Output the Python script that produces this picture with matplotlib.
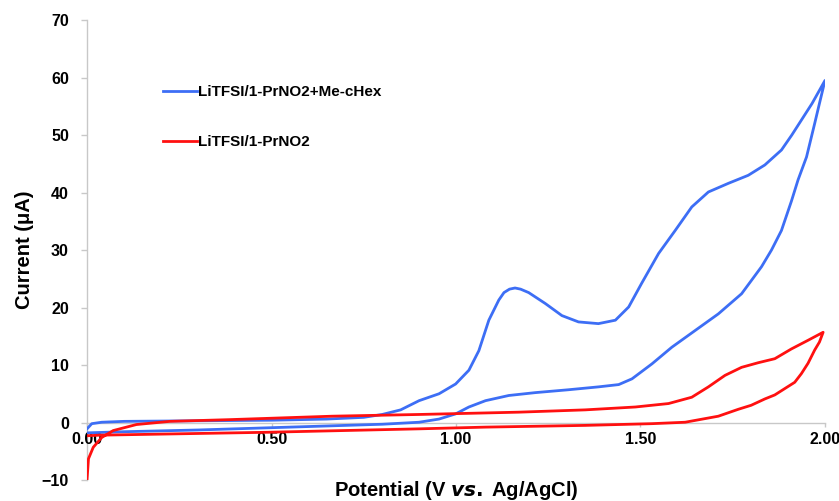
"""Cyclic voltammogram: LiTFSI/1-PrNO2 with and without Me-cHex."""
import matplotlib
matplotlib.use("Agg")
import matplotlib.pyplot as plt

plt.rcParams["font.family"] = ["Liberation Sans", "DejaVu Sans"]
plt.rcParams["font.weight"] = "bold"

LABEL_MIX = "LiTFSI/1-PrNO2+Me-cHex"
LABEL_BASE = "LiTFSI/1-PrNO2"
COLOR_MIX = "#3d6ef5"
COLOR_BASE = "#ff1010"

# blue curve: forward scan then reverse scan (V, uA)
mix_v = [0.000, 0.013, 0.040, 0.100, 0.300, 0.500, 0.650, 0.750, 0.800, 0.850,
         0.900, 0.954, 0.999, 1.035, 1.062, 1.089, 1.116, 1.130, 1.145, 1.160,
         1.175, 1.197, 1.242, 1.287, 1.332, 1.386, 1.432, 1.468, 1.503, 1.549,
         1.594, 1.639, 1.684, 1.738, 1.792, 1.837, 1.882, 1.910, 1.940, 1.965,
         2.000,
         1.985, 1.972, 1.950, 1.927, 1.909, 1.882, 1.855, 1.828, 1.774, 1.711,
         1.648, 1.585, 1.531, 1.477, 1.441, 1.386, 1.305, 1.215, 1.143, 1.080,
         1.035, 0.999, 0.954, 0.900, 0.800, 0.700, 0.500, 0.300, 0.100, 0.000]
mix_i = [-1.1, -0.2, 0.05, 0.2, 0.3, 0.4, 0.6, 0.9, 1.4, 2.2,
         3.8, 5.0, 6.7, 9.1, 12.5, 17.8, 21.3, 22.6, 23.2, 23.4,
         23.2, 22.6, 20.7, 18.6, 17.5, 17.2, 17.8, 20.1, 24.2, 29.4,
         33.4, 37.5, 40.1, 41.6, 43.0, 44.8, 47.4, 50.0, 53.0, 55.5,
         59.5,
         55.5, 52.0, 46.2, 42.2, 38.5, 33.4, 30.0, 27.1, 22.4, 18.9,
         16.0, 13.1, 10.2, 7.6, 6.6, 6.2, 5.7, 5.2, 4.7, 3.8,
         2.7, 1.5, 0.6, 0.05, -0.3, -0.5, -0.9, -1.3, -1.6, -1.8]

# red curve: forward scan then reverse scan (V, uA)
base_v = [0.000, 0.004, 0.017, 0.040, 0.071, 0.134, 0.224, 0.386, 0.665, 0.900,
          1.170, 1.350, 1.486, 1.576, 1.639, 1.684, 1.729, 1.774, 1.819, 1.864,
          1.909, 1.954, 1.995,
          1.985, 1.972, 1.954, 1.936, 1.918, 1.891, 1.864, 1.837, 1.800, 1.765,
          1.711, 1.621, 1.531, 1.350, 1.080, 0.900, 0.486, 0.035, 0.000]
base_i = [-10.0, -6.3, -4.3, -2.6, -1.4, -0.35, 0.2, 0.5, 1.1, 1.4,
          1.8, 2.2, 2.7, 3.3, 4.4, 6.2, 8.2, 9.6, 10.4, 11.1,
          12.8, 14.3, 15.7,
          14.0, 12.6, 10.3, 8.5, 7.0, 5.9, 4.8, 4.1, 3.0, 2.3,
          1.1, 0.05, -0.2, -0.5, -0.8, -1.1, -1.7, -2.2, -2.3]

X_TICKS = [0.0, 0.5, 1.0, 1.5, 2.0]
Y_TICKS = [-10, 0, 10, 20, 30, 40, 50, 60, 70]


def main():
    fig = plt.figure(figsize=(8.39, 5.01), dpi=100)
    ax = fig.add_axes([0.1037, 0.0419, 0.8796, 0.918])

    ax.plot(mix_v, mix_i, color=COLOR_MIX, lw=2.0, label=LABEL_MIX,
            solid_joinstyle="round")
    ax.plot(base_v, base_i, color=COLOR_BASE, lw=2.0, label=LABEL_BASE,
            solid_joinstyle="round")

    ax.set_xlim(0, 2.0)
    ax.set_ylim(-10, 70)
    ax.set_xticks(X_TICKS)
    ax.set_xticklabels([f"{t:.2f}" for t in X_TICKS])
    ax.set_yticks(Y_TICKS)
    ax.set_yticklabels([str(t) if t >= 0 else "\u2212" + str(-t) for t in Y_TICKS])

    for side in ("top", "right"):
        ax.spines[side].set_visible(False)
    ax.spines["bottom"].set_position(("data", 0))
    for side in ("left", "bottom"):
        ax.spines[side].set_color("#c8c8c8")
        ax.spines[side].set_linewidth(1.0)
        ax.spines[side].set_zorder(0)

    ax.tick_params(axis="y", direction="out", length=4, width=1.0,
                   color="#c8c8c8", pad=9, labelsize=11.5)
    ax.tick_params(axis="x", direction="out", length=3, width=1.0,
                   color="#c8c8c8", pad=4, labelsize=11.5)

    ax.set_ylabel("Current (\u03bcA)", fontsize=14.5, fontweight="bold")
    ax.yaxis.set_label_coords(-0.072, 0.5)
    ax.set_xlabel(r"Potential (V $\bf{\it{vs.}}$" + "\u2009Ag/AgCl)",
                  fontsize=14.5, fontweight="bold", va="center")
    ax.xaxis.set_label_coords(0.5, -0.022)

    ax.legend(loc="upper left", bbox_to_anchor=(0.103, 0.858), frameon=False,
              fontsize=11, handlelength=2.2, handletextpad=0.1,
              labelspacing=2.35, borderaxespad=0, borderpad=0)

    fig.savefig("out.png", dpi=100)
    plt.close(fig)


if __name__ == "__main__":
    main()
